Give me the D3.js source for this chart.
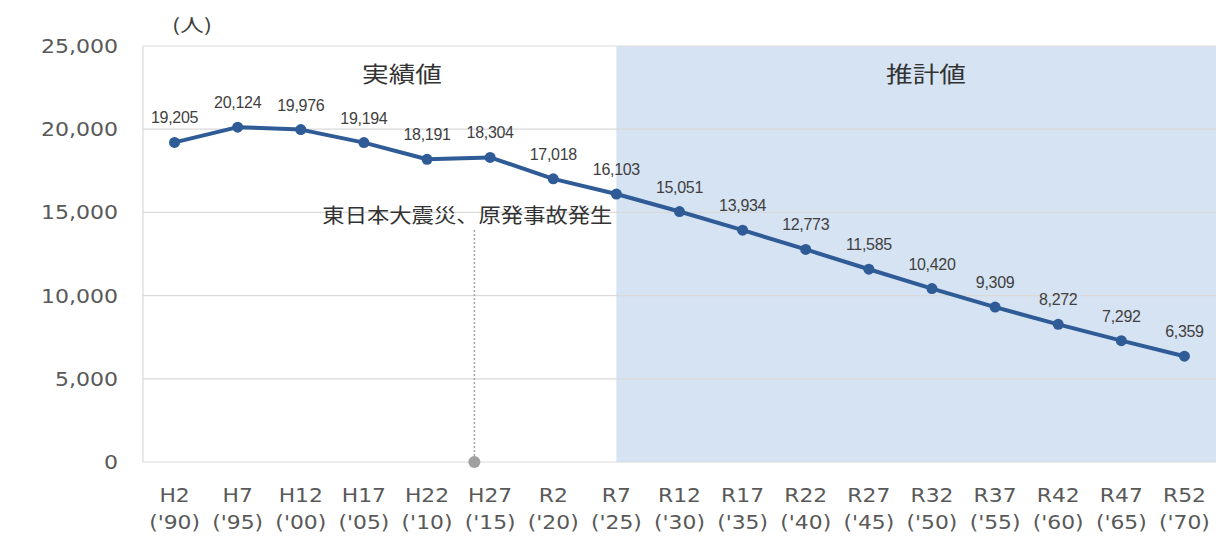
<!DOCTYPE html>
<html>
<head>
<meta charset="utf-8">
<script src="https://cdn.jsdelivr.net/npm/d3@7"></script>
<style>
  body { margin: 0; background: #fff; }
  svg { display: block; }
</style>
</head>
<body>
<svg id="chart" width="1223" height="544"></svg>
<script>
// ---- data ----
const categories = ["H2","H7","H12","H17","H22","H27","R2","R7","R12","R17","R22","R27","R32","R37","R42","R47","R52"];
const yearLabels = ["('90)","('95)","('00)","('05)","('10)","('15)","('20)","('25)","('30)","('35)","('40)","('45)","('50)","('55)","('60)","('65)","('70)"];
const population = [19205,20124,19976,19194,18191,18304,17018,16103,15051,13934,12773,11585,10420,9309,8272,7292,6359];
const yTicks = [0,5000,10000,15000,20000,25000];
const actualLabel = "実績値";
const estimateLabel = "推計値";
const estimateStart = "R7";
const eventText = "東日本大震災、原発事故発生";
const eventBetween = ["H22","H27"];
const eventFraction = 0.75;
const unitLabel = "(人)";

// ---- layout ----
const svg = d3.select("#chart");
const plotLeft = 143, plotRight = 1216, plotTop = 46, plotBottom = 462;
const SX = 1.16;
const axisColor = "#595959";
const lineColor = "#2f5b97";

const x = d3.scaleBand().domain(categories).range([plotLeft, plotRight]).padding(0);
const cx = c => x(c) + x.bandwidth() / 2;
const y = d3.scaleLinear().domain([0, 25000]).range([plotBottom, plotTop]);

function stretchAt(sel, px, s) {
  sel.attr("transform", `translate(${px},0) scale(${s},1) translate(${-px},0)`);
}

// shaded estimate region
svg.append("rect")
  .attr("x", cx(estimateStart))
  .attr("y", y(25000))
  .attr("width", plotRight - cx(estimateStart))
  .attr("height", y(0) - y(25000))
  .attr("fill", "#d6e3f3");

// gridlines
svg.append("g").selectAll("line").data(yTicks).join("line")
  .attr("x1", plotLeft).attr("x2", plotRight)
  .attr("y1", d => y(d)).attr("y2", d => y(d))
  .attr("stroke", "#d9d9d9").attr("stroke-width", 1.2);

// left axis line
svg.append("line")
  .attr("x1", plotLeft).attr("x2", plotLeft)
  .attr("y1", y(25000)).attr("y2", y(0))
  .attr("stroke", "#d9d9d9").attr("stroke-width", 1.2);

// y axis
const yAxis = svg.append("g")
  .attr("transform", `translate(${plotLeft},0)`)
  .call(d3.axisLeft(y).tickValues(yTicks).tickSize(0).tickFormat(d3.format(",")));
yAxis.select(".domain").remove();
yAxis.selectAll("text")
  .attr("x", -25)
  .attr("dy", "0.34em")
  .attr("fill", axisColor)
  .style("font-family", "'DejaVu Sans', Verdana, sans-serif")
  .style("font-size", "19px")
  .each(function() { stretchAt(d3.select(this), -25, SX); });

// x axis
const xAxis = svg.append("g")
  .attr("transform", `translate(0,${plotBottom})`)
  .call(d3.axisBottom(x).tickSize(0).tickFormat(""));
xAxis.select(".domain").remove();
xAxis.selectAll(".tick text").remove();
xAxis.selectAll(".tick").each(function(d, i) {
  const t = d3.select(this).append("text")
    .attr("fill", axisColor)
    .attr("text-anchor", "middle")
    .style("font-family", "'DejaVu Sans', Verdana, sans-serif")
    .style("font-size", "19px");
  t.append("tspan").attr("x", 0).attr("y", 40).text(d);
  t.append("tspan").attr("x", 0).attr("y", 67).text(yearLabels[i]);
  stretchAt(t, 0, 1.15);
});

// event annotation
const evX = cx(eventBetween[0]) + eventFraction * (cx(eventBetween[1]) - cx(eventBetween[0]));
svg.append("line")
  .attr("x1", evX).attr("x2", evX)
  .attr("y1", 230).attr("y2", y(0))
  .attr("stroke", "#a6a6a6").attr("stroke-width", 1.5)
  .attr("stroke-dasharray", "2,2");
svg.append("circle")
  .attr("cx", evX).attr("cy", y(0)).attr("r", 6)
  .attr("fill", "#a0a0a0");
svg.append("text")
  .attr("x", cx(estimateStart) - 4).attr("y", 223)
  .attr("text-anchor", "end")
  .attr("fill", "#333")
  .attr("textLength", 290).attr("lengthAdjust", "spacingAndGlyphs")
  .style("font-family", "'Noto Sans CJK JP', sans-serif")
  .style("font-size", "20px")
  .text(eventText);

// section labels
svg.append("text")
  .attr("x", 402).attr("y", 82)
  .attr("text-anchor", "middle").attr("fill", "#333")
  .attr("textLength", 80).attr("lengthAdjust", "spacingAndGlyphs")
  .style("font-family", "'Noto Sans CJK JP', sans-serif")
  .style("font-size", "22px")
  .text(actualLabel);
svg.append("text")
  .attr("x", 926).attr("y", 82)
  .attr("text-anchor", "middle").attr("fill", "#333")
  .attr("textLength", 80).attr("lengthAdjust", "spacingAndGlyphs")
  .style("font-family", "'Noto Sans CJK JP', sans-serif")
  .style("font-size", "22px")
  .text(estimateLabel);

// unit label
svg.append("text")
  .attr("x", 192).attr("y", 32)
  .attr("text-anchor", "middle").attr("fill", "#404040")
  .attr("textLength", 40).attr("lengthAdjust", "spacingAndGlyphs")
  .style("font-family", "'Noto Sans CJK JP', sans-serif")
  .style("font-size", "18px")
  .text(unitLabel);

// line
const line = d3.line().x((d, i) => cx(categories[i])).y(d => y(d));
svg.append("path")
  .datum(population)
  .attr("d", line)
  .attr("fill", "none")
  .attr("stroke", lineColor)
  .attr("stroke-width", 4)
  .attr("stroke-linejoin", "round");

svg.append("g").selectAll("circle").data(population).join("circle")
  .attr("cx", (d, i) => cx(categories[i]))
  .attr("cy", d => y(d))
  .attr("r", 5.5)
  .attr("fill", lineColor);

// data labels
svg.append("g").selectAll("text").data(population).join("text")
  .attr("x", (d, i) => cx(categories[i]))
  .attr("y", d => y(d) - 19)
  .attr("text-anchor", "middle")
  .attr("fill", "#404040")
  .style("font-family", "'Liberation Sans', Arial, sans-serif")
  .style("font-size", "16px")
  .style("letter-spacing", "-0.3px")
  .text(d => d3.format(",")(d));
</script>
</body>
</html>
